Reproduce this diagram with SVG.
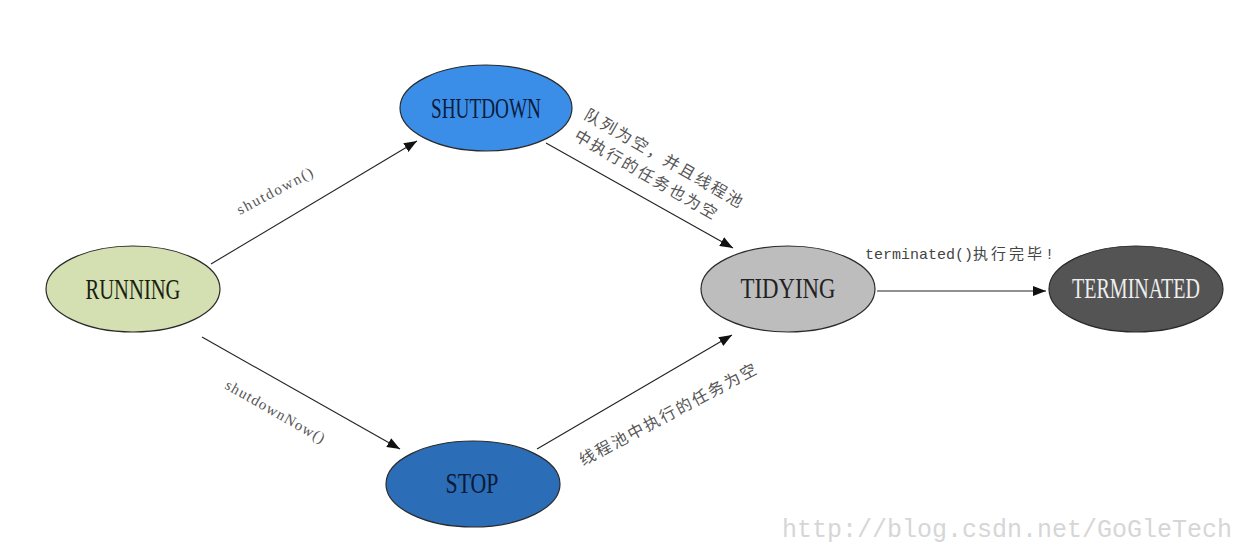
<svg xmlns="http://www.w3.org/2000/svg" width="1250" height="558" viewBox="0 0 1250 558">
<style>
.node ellipse{stroke:#2a2a2a;stroke-width:1.2}
.nl{font-family:"Liberation Serif","Noto Sans CJK SC",serif;font-size:30px;text-anchor:middle}
.edge{stroke:#222;stroke-width:1.1;fill:none}
.lbl{font-family:"Liberation Serif","Noto Sans CJK SC",serif;font-size:15px;fill:#555}
.cjk{font-family:"Noto Sans CJK SC",sans-serif;font-size:16px;fill:#555;letter-spacing:2.2px}
.mono{font-family:"Liberation Mono","Noto Sans CJK SC",monospace;font-size:15px;fill:#444}
.wm{font-family:"Liberation Mono",monospace;font-size:25px;fill:#d6d6d6}
</style>
<defs>
<marker id="arr" markerUnits="userSpaceOnUse" markerWidth="14" markerHeight="10" refX="13" refY="5" orient="auto">
<path d="M0,0 L13,5 L0,10 Z" fill="#111"/>
</marker>
</defs>
<rect width="1250" height="558" fill="#fff"/>

<g id="connectors">
<line class="edge" x1="211" y1="264" x2="417" y2="141" marker-end="url(#arr)"/>
<line class="edge" x1="546" y1="143" x2="733" y2="248" marker-end="url(#arr)"/>
<line class="edge" x1="202" y1="337" x2="400" y2="449" marker-end="url(#arr)"/>
<line class="edge" x1="537" y1="449" x2="732" y2="335" marker-end="url(#arr)"/>
<line class="edge" x1="877" y1="291" x2="1046" y2="291" marker-end="url(#arr)"/>
<text class="lbl" transform="translate(240,215) rotate(-28)" textLength="84" lengthAdjust="spacing">shutdown()</text>
<text class="lbl" transform="translate(224,388) rotate(29.7)" textLength="112" lengthAdjust="spacing">shutdownNow()</text>
<text class="cjk" transform="translate(583,118) rotate(30)">队列为空，并且线程池</text>
<text class="cjk" transform="translate(573,139) rotate(30)">中执行的任务也为空</text>
<text class="cjk" transform="translate(583,466) rotate(-28)">线程池中执行的任务为空</text>
<text class="mono" x="865" y="259">terminated()<tspan font-family="Noto Sans CJK SC" letter-spacing="3">执行完毕</tspan>!</text>
</g>

<g id="running" class="node">
<ellipse cx="133" cy="289" rx="87" ry="43" fill="#d4dfb2"/>
<text class="nl" x="133" y="299" fill="#1a1f10" textLength="95" lengthAdjust="spacingAndGlyphs">RUNNING</text>
</g>
<g id="shutdown" class="node">
<ellipse cx="486" cy="108" rx="86" ry="43" fill="#3b8ee8"/>
<text class="nl" x="486" y="118" fill="#0b1c3c" textLength="110" lengthAdjust="spacingAndGlyphs">SHUTDOWN</text>
</g>
<g id="stop" class="node">
<ellipse cx="473" cy="484" rx="87" ry="43" fill="#2c6db8"/>
<text class="nl" x="472" y="493" fill="#0a1a35" textLength="53" lengthAdjust="spacingAndGlyphs">STOP</text>
</g>
<g id="tidying" class="node">
<ellipse cx="788" cy="289" rx="87" ry="43" fill="#bdbdbd"/>
<text class="nl" x="788" y="298" fill="#222" textLength="95" lengthAdjust="spacingAndGlyphs">TIDYING</text>
</g>
<g id="terminated" class="node">
<ellipse cx="1136" cy="289" rx="87" ry="43" fill="#545454"/>
<text class="nl" x="1136" y="298" fill="#eeeeee" style="font-size:29px" textLength="128" lengthAdjust="spacingAndGlyphs">TERMINATED</text>
</g>

<text class="wm" x="782" y="537" textLength="450" lengthAdjust="spacingAndGlyphs">http://blog.csdn.net/GoGleTech</text>
</svg>
